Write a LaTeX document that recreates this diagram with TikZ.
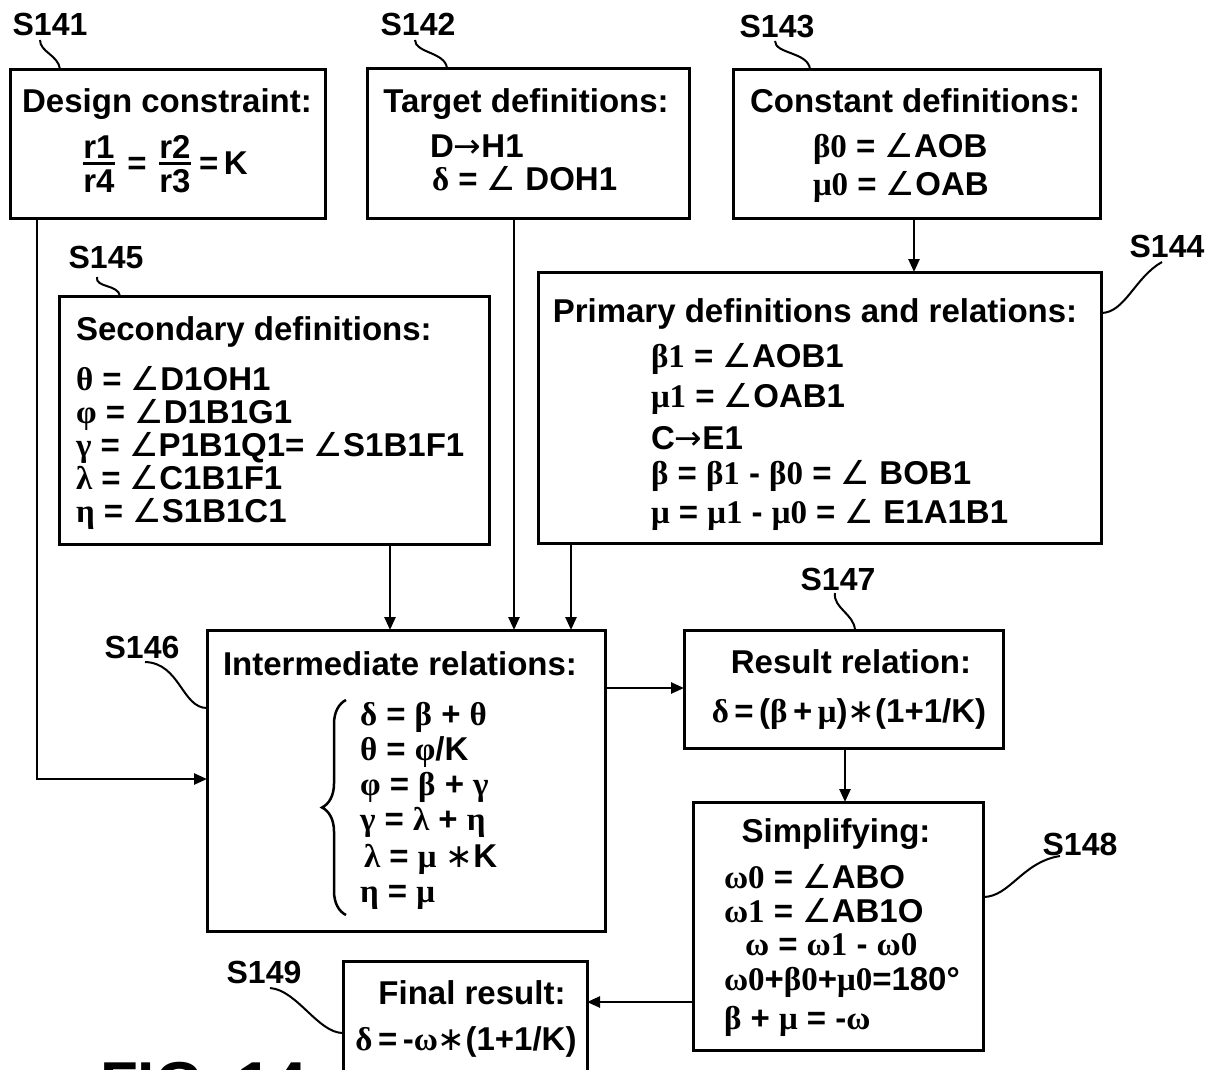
\documentclass[tikz,border=0pt]{standalone}
\usepackage{fontspec}
\setmainfont{Liberation Sans}
\newfontfamily\gkf{Liberation Serif}
\newfontfamily\angf{DejaVu Sans}
\usetikzlibrary{arrows.meta,decorations.pathreplacing}
\newcommand\gk[1]{{\gkf #1}}
\newcommand\ang{{\angf\mdseries ∠}}
\newcommand\myarrow{{\angf\mdseries →}}
\newcommand\mystar{{\angf\mdseries ∗}}
\newcommand\fsz{\fontsize{33}{40}\selectfont\bfseries}
\begin{document}
\begin{tikzpicture}[x=1pt,y=-1pt,
  every node/.style={font=\fsz, inner sep=0pt, outer sep=0pt},
  box/.style={draw, line width=3pt, anchor=north west, rectangle},
  txt/.style={anchor=base west},
  ttl/.style={anchor=base},
  lbl/.style={anchor=base, font=\fontsize{32}{36}\selectfont\bfseries},
  arr/.style={line width=2.5pt, -{Triangle[length=13pt,width=11pt]}},
  lead/.style={line width=2pt},
  fracbar/.style={line width=3pt}]
\useasboundingbox (0,0) rectangle (1223,1069);
\clip (0,0) rectangle (1223,1069);
\fill[white] (0,0) rectangle (1223,1069);

% ---------- boxes ----------
\node[box, minimum width=315pt, minimum height=149pt] (b141) at (10,69) {};
\node[box, minimum width=322pt, minimum height=150pt] (b142) at (367,68) {};
\node[box, minimum width=367pt, minimum height=149pt] (b143) at (733,69) {};
\node[box, minimum width=563pt, minimum height=271pt] (b144) at (538,272) {};
\node[box, minimum width=430pt, minimum height=248pt] (b145) at (59,296) {};
\node[box, minimum width=398pt, minimum height=301pt] (b146) at (207,630) {};
\node[box, minimum width=319pt, minimum height=118pt] (b147) at (684,630) {};
\node[box, minimum width=290pt, minimum height=248pt] (b148) at (693,802) {};
\node[box, minimum width=244pt, minimum height=160pt] (b149) at (343,961) {};

% ---------- labels ----------
\node[lbl] (l141) at (50,35) {S141};
\node[lbl] (l142) at (418,35) {S142};
\node[lbl] (l143) at (777,37) {S143};
\node[lbl] (l144) at (1167,257) {S144};
\node[lbl] (l145) at (106,268) {S145};
\node[lbl] (l146) at (142,658) {S146};
\node[lbl] (l147) at (838,590) {S147};
\node[lbl] (l148) at (1080,855) {S148};
\node[lbl] (l149) at (264,983) {S149};

% ---------- leaders ----------
\coordinate (s141) at (40,40);
\coordinate (s142) at (415,40);
\coordinate (s143) at (775,41);
\coordinate (s144) at (1162,262);
\coordinate (s145) at (97,277);
\coordinate (s146) at (145,662);
\coordinate (s147) at (835,593);
\coordinate (s148) at (1060,856);
\coordinate (s149) at (270,988);
\draw[lead] (s141) .. controls (40,52) and (58,55) .. (b141.north -| 60,0);
\draw[lead] (s142) .. controls (415,53) and (445,52) .. (b142.north -| 447,0);
\draw[lead] (s143) .. controls (775,54) and (808,52) .. (b143.north -| 810,0);
\draw[lead] (s144) .. controls (1135,277) and (1125,313) .. (b144.east |- 0,313);
\draw[lead] (s145) .. controls (95,288) and (118,284) .. (b145.north -| 120,0);
\draw[lead] (s146) .. controls (180,663) and (182,708) .. (b146.west |- 0,708);
\draw[lead] (s147) .. controls (833,608) and (854,614) .. (b147.north -| 855,0);
\draw[lead] (s148) .. controls (1022,862) and (1010,897) .. (b148.east |- 0,897);
\draw[lead] (s149) .. controls (297,990) and (318,1033) .. (b149.west |- 0,1033);

% ---------- connectors ----------
\draw[arr] (b141.south -| 37,0) |- (b146.west |- 0,779);
\draw[arr] (b145.south -| 390,0) -- (b146.north -| 390,0);
\draw[arr] (b142.south -| 514,0) -- (b146.north -| 514,0);
\draw[arr] (b144.south -| 571,0) -- (b146.north -| 571,0);
\draw[arr] (b143.south -| 914,0) -- (b144.north -| 914,0);
\draw[arr] (b146.east |- 0,688) -- (b147.west |- 0,688);
\draw[arr] (b147.south -| 845,0) -- (b148.north -| 845,0);
\draw[arr] (b148.west |- 0,1002) -- (b149.east |- 0,1002);

% ---------- S141 ----------
\node[ttl] (t141) at (167,112) {Design constraint:};
\node[ttl] (f1n) at (99,158) {r1};
\node[ttl] (f1d) at (99,192) {r4};
\draw[fracbar] (f1n.south west |- 0,163) -- (f1n.south east |- 0,163);
\node[ttl] (eq1) at (137,174) {=};
\node[ttl] (f2n) at (175,158) {r2};
\node[ttl] (f2d) at (175,192) {r3};
\draw[fracbar] (f2n.south west |- 0,163) -- (f2n.south east |- 0,163);
\node[txt] (eqk) at (199,174) {=\,K};

% ---------- S142 ----------
\node[ttl] (t142) at (526,112) {Target definitions:};
\node[txt] (d142a) at (430,157) {D\myarrow H1};
\node[txt] (d142b) at (432,190) {\gk{δ} = \ang\ DOH1};

% ---------- S143 ----------
\node[ttl] (t143) at (915,112) {Constant definitions:};
\node[txt] (d143a) at (813,157) {\gk{β0} = \ang AOB};
\node[txt] (d143b) at (813,195) {\gk{μ0} = \ang OAB};

% ---------- S144 ----------
\node[ttl] (t144) at (815,322) {Primary definitions and relations:};
\node[txt] (d144a) at (651,367) {\gk{β1} = \ang AOB1};
\node[txt] (d144b) at (651,407) {\gk{μ1} = \ang OAB1};
\node[txt] (d144c) at (651,449) {C\myarrow E1};
\node[txt] (d144d) at (651,484) {\gk{β} = \gk{β1} - \gk{β0} = \ang\ BOB1};
\node[txt] (d144e) at (651,523) {\gk{μ} = \gk{μ1} - \gk{μ0} = \ang\ E1A1B1};

% ---------- S145 ----------
\node[txt] (t145) at (76,340) {Secondary definitions:};
\node[txt] (d145a) at (76,390) {\gk{θ} = \ang D1OH1};
\node[txt] (d145b) at (76,423) {\gk{φ} = \ang D1B1G1};
\node[txt] (d145c) at (76,456) {\gk{γ} = \ang P1B1Q1= \ang S1B1F1};
\node[txt] (d145d) at (76,489) {\gk{λ} = \ang C1B1F1};
\node[txt] (d145e) at (76,522) {\gk{η} = \ang S1B1C1};

% ---------- S146 ----------
\node[ttl] (t146) at (400,675) {Intermediate relations:};
\coordinate (brtop) at (346,700);
\coordinate (brbot) at (346,915);
\draw[line width=2.5pt, decorate, decoration={brace, amplitude=24pt}] (brbot) -- (brtop);
\node[txt] (d146a) at (360,725) {\gk{δ} = \gk{β} + \gk{θ}};
\node[txt] (d146b) at (360,760) {\gk{θ} = \gk{φ}/K};
\node[txt] (d146c) at (360,795) {\gk{φ} = \gk{β} + \gk{γ}};
\node[txt] (d146d) at (360,830) {\gk{γ} = \gk{λ} + \gk{η}};
\node[txt] (d146e) at (364,867) {\gk{λ} = \gk{μ} \mystar K};
\node[txt] (d146f) at (360,902) {\gk{η} = \gk{μ}};

% ---------- S147 ----------
\node[ttl] (t147) at (851,673) {Result relation:};
\node[ttl] (d147) at (849,722) {\gk{δ}\,=\,(\gk{β}\,+\,\gk{μ})\mystar(1+1/K)};

% ---------- S148 ----------
\node[ttl] (t148) at (836,842) {Simplifying:};
\node[txt] (d148a) at (724,888) {\gk{ω0} = \ang ABO};
\node[txt] (d148b) at (724,922) {\gk{ω1} = \ang AB1O};
\node[txt] (d148c) at (745,955) {\gk{ω} = \gk{ω1} - \gk{ω0}};
\node[txt] (d148d) at (724,990) {\gk{ω0}+\gk{β0}+\gk{μ0}=180°};
\node[txt] (d148e) at (724,1029) {\gk{β} + \gk{μ} = -\gk{ω}};

% ---------- S149 ----------
\node[ttl] (t149) at (472,1004) {Final result:};
\node[ttl] (d149) at (466,1050) {\gk{δ}\,=\,-\gk{ω}\mystar(1+1/K)};

% ---------- figure caption (cut off at the lower edge, as in the reference) ----------
\node[anchor=base west, font=\fontsize{62}{70}\selectfont\bfseries] (fig) at (100,1105) {FIG. 14};
\end{tikzpicture}
\end{document}
